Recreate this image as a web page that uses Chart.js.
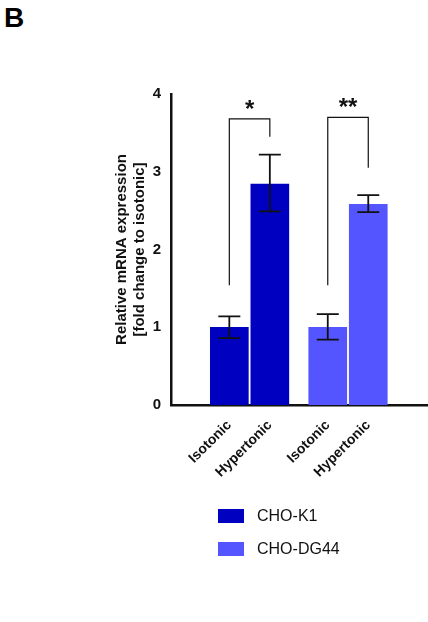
<!DOCTYPE html>
<html><head><meta charset="utf-8">
<script src="https://cdn.jsdelivr.net/npm/chart.js@4"></script>
<style>
body{margin:0;width:428px;height:622px;background:#fff;position:relative;font-family:Arial,"Liberation Sans",sans-serif;overflow:hidden}
#c{position:absolute;left:0;top:0}
#B{position:absolute;left:4px;top:2px;font-weight:bold;font-size:28px}
.lg{position:absolute;left:218px;font-size:16px;color:#111}
.lg span{display:inline-block;width:26px;height:14px;vertical-align:-2px;margin-right:13px}
</style></head><body>
<div id="B">B</div>
<canvas id="c" width="428" height="510"></canvas>
<div class="lg" style="top:507px"><span style="background:#0000c0"></span>CHO-K1</div>
<div class="lg" style="top:540px"><span style="background:#5555ff"></span>CHO-DG44</div>
<script>
const categories=['Isotonic','Hypertonic','Isotonic','Hypertonic'];
const positions=[0,1,2.43,3.43];
const k1Values=[1.0,2.84];
const dgValues=[1.0,2.58];
const errLow=[0.86,2.49,0.84,2.48];
const errHigh=[1.14,3.22,1.17,2.70];
const brackets=[{a:0,b:1,top:3.68,la:1.54,lb:3.45,t:'*'},{a:2,b:3,top:3.70,la:1.54,lb:3.05,t:'**'}];
const yTicks=[0,1,2,3,4];

const extras={id:'extras',afterDatasetsDraw(ch){
  const c=ch.ctx,x=ch.scales.x,y=ch.scales.y;
  c.save();c.strokeStyle='#111';c.lineWidth=1.8;
  positions.forEach((p,i)=>{const px=x.getPixelForValue(p);
    c.beginPath();c.moveTo(px,y.getPixelForValue(errLow[i]));c.lineTo(px,y.getPixelForValue(errHigh[i]));
    [errLow[i],errHigh[i]].forEach(v=>{const py=y.getPixelForValue(v);c.moveTo(px-11,py);c.lineTo(px+11,py);});
    c.stroke();});
  c.lineWidth=1.2;
  brackets.forEach(b=>{const xa=x.getPixelForValue(positions[b.a]),xb=x.getPixelForValue(positions[b.b]),yt=y.getPixelForValue(b.top);
    c.beginPath();c.moveTo(xa,y.getPixelForValue(b.la));c.lineTo(xa,yt);c.lineTo(xb,yt);c.lineTo(xb,y.getPixelForValue(b.lb));c.stroke();
    c.fillStyle='#111';c.font='bold 24px Arial';c.textAlign='center';c.textBaseline='alphabetic';
    c.fillText(b.t,(xa+xb)/2,yt-2);});
  c.restore();}};

new Chart(document.getElementById('c'),{
  type:'bar',
  data:{datasets:[
    {data:k1Values.map((v,i)=>({x:positions[i],y:v})),backgroundColor:'#0000c0',barThickness:38,grouped:false},
    {data:dgValues.map((v,i)=>({x:positions[i+2],y:v})),backgroundColor:'#5555ff',barThickness:38,grouped:false}
  ]},
  options:{responsive:false,animation:false,devicePixelRatio:1,
    layout:{padding:{left:112,top:94,right:1,bottom:0}},
    plugins:{legend:{display:false},tooltip:{enabled:false}},
    scales:{
      x:{type:'linear',min:-0.65,max:4.09,
        afterBuildTicks:s=>{s.ticks=positions.map(v=>({value:v}));},
        afterFit:s=>{s.height=105;},
        grid:{display:false,drawOnChartArea:false,drawTicks:true,tickLength:9,tickWidth:2.5,tickColor:'#111'},
        border:{color:'#111',width:2.5},
        ticks:{autoSkip:false,minRotation:45,maxRotation:45,color:'#111',font:{family:'Arial',weight:'bold',size:14},
          callback:(v,i)=>categories[i]}},
      y:{min:0,max:4,
        afterBuildTicks:s=>{s.ticks=yTicks.map(v=>({value:v}));},
        afterFit:s=>{s.width=59;},
        grid:{display:false,drawOnChartArea:false,drawTicks:true,tickLength:7,tickWidth:2.5,tickColor:'#111'},
        border:{color:'#111',width:2.5},
        ticks:{color:'#111',padding:3,font:{family:'Arial',weight:'bold',size:15}},
        title:{display:true,text:['Relative mRNA expression','[fold change to isotonic]'],color:'#111',padding:{top:0,bottom:2},font:{family:'Arial',weight:'bold',size:15,lineHeight:1.25}}}
    }},
  plugins:[extras]});
</script></body></html>
